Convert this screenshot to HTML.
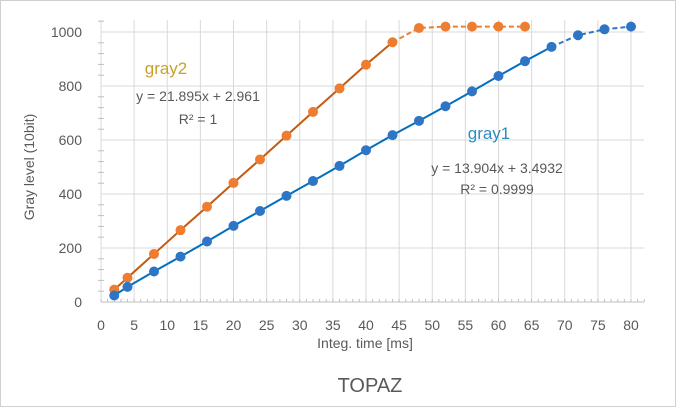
<!DOCTYPE html>
<html><head><meta charset="utf-8"><style>
body{margin:0;background:#fff}
svg{display:block;font-family:"Liberation Sans",sans-serif}
</style></head><body>
<svg id="c" width="676" height="407">
<rect x="0.5" y="0.5" width="675" height="406" fill="#fff" stroke="#d0d0d0"/>
<g id="grid"></g><g id="marks"></g><g id="labels"></g>
<text x="370" y="392" font-size="20" fill="#595959" text-anchor="middle">TOPAZ</text>
<text x="365" y="348" font-size="14" fill="#595959" text-anchor="middle">Integ. time [ms]</text>
<text transform="translate(34,167) rotate(-90)" font-size="14" fill="#595959" text-anchor="middle">Gray level (10bit)</text>
<text x="166" y="74" font-size="17" fill="#c9a227" text-anchor="middle">gray2</text>
<text x="198" y="101" font-size="14" fill="#595959" text-anchor="middle">y = 21.895x + 2.961</text>
<text x="198" y="124" font-size="14" fill="#595959" text-anchor="middle">R² = 1</text>
<text x="489" y="139" font-size="17" fill="#2e8bc0" text-anchor="middle">gray1</text>
<text x="497" y="173" font-size="14" fill="#595959" text-anchor="middle">y = 13.904x + 3.4932</text>
<text x="497" y="194" font-size="14" fill="#595959" text-anchor="middle">R² = 0.9999</text>
</svg>
<script>
const xTicks=[0,5,10,15,20,25,30,35,40,45,50,55,60,65,70,75,80];
const yTicks=[0,200,400,600,800,1000];
const g2x=[2,4,8,12,16,20,24,28,32,36,40,44,48,52,56,60,64];
const g2y=[46,90,178,266,353,441,528,616,704,791,879,962,1015,1020,1020,1020,1020];
const g1x=[2,4,8,12,16,20,24,28,32,36,40,44,48,52,56,60,64,68,72,76,80];
const g1y=[24,56,113,168,224,282,337,393,448,504,562,618,671,725,780,837,892,945,988,1010,1020];
const g2SolidEnd=44, g1SolidEnd=68;
const X=v=>101+v*530/80, Y=v=>302-v*0.27;
const NS="http://www.w3.org/2000/svg";
function mk(p,t,a){const e=document.createElementNS(NS,t);for(const k in a)e.setAttribute(k,a[k]);p.appendChild(e);return e;}
const grid=document.getElementById('grid'),marks=document.getElementById('marks'),labels=document.getElementById('labels');
for(let v=0;v<=80;v+=5){const l=mk(grid,'line',{x1:X(v),x2:X(v),y1:Y(1045),y2:Y(0),stroke:'#d9d9d9'});

}
for(let v=0;v<=1040;v+=40){const major=v%200===0;const l=mk(grid,'line',{x1:X(0)-(major?0:3),x2:major?X(82):X(0)+3,y1:Y(v),y2:Y(v),stroke:major?'#d9d9d9':'#bfbfbf'});

}
for(let v=0;v<=82;v++){const l=mk(grid,'line',{x1:X(v),x2:X(v),y1:Y(0),y2:Y(0)-3,stroke:'#bfbfbf'});

}
const ax=mk(grid,'line',{x1:X(0),x2:X(82),y1:Y(0),y2:Y(0),stroke:'#bfbfbf'});


xTicks.forEach(v=>{const t=mk(labels,'text',{x:X(v),y:330,'font-size':14,fill:'#595959','text-anchor':'middle'});t.textContent=v;

});
yTicks.forEach(v=>{const t=mk(labels,'text',{x:82,y:Y(v)+5,'font-size':14,fill:'#595959','text-anchor':'end'});t.textContent=v;

});
function series(xs,ys,end,lineCol,dotCol,name){
 let s='',d='';xs.forEach((x,i)=>{const p=X(x)+','+Y(ys[i]);if(x<=end)s+=(s?'L':'M')+p;if(x>=end)d+=(d?'L':'M')+p;});
 const a=mk(marks,'path',{d:s,fill:'none',stroke:lineCol,'stroke-width':2});
 
 
 const b=mk(marks,'path',{d:d,fill:'none',stroke:dotCol,'stroke-width':2,'stroke-dasharray':'5,3'});
 
 
 xs.forEach((x,i)=>{const c=mk(marks,'circle',{cx:X(x),cy:Y(ys[i]),r:5,fill:dotCol});
 
 });
}
series(g2x,g2y,g2SolidEnd,'#c55a11','#ed7d31','gray2');
series(g1x,g1y,g1SolidEnd,'#0070c0','#2e75c6','gray1');
</script>
</body></html>
